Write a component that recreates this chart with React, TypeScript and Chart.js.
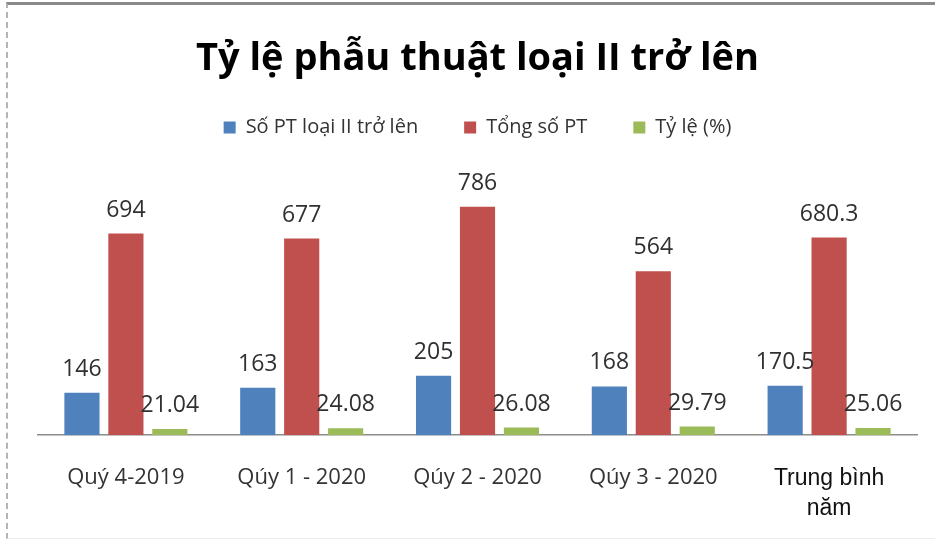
import React, { useEffect, useRef } from "react";
import { Chart, registerables } from "chart.js";

Chart.register(...registerables);

const TITLE = "Tỷ lệ phẫu thuật loại II trở lên";
const CATEGORIES: (string | string[])[] = [
  "Quý 4-2019",
  "Qúy 1 - 2020",
  "Qúy 2 - 2020",
  "Qúy 3 - 2020",
  ["Trung bình", "năm"],
];
const SERIES_NAMES = ["Số PT loại II trở lên", "Tổng số PT", "Tỷ lệ (%)"];
const SO_PT_LOAI_II = [146, 163, 205, 168, 170.5];
const TONG_SO_PT = [694, 677, 786, 564, 680.3];
const TY_LE = [21.04, 24.08, 26.08, 29.79, 25.06];
const COLORS = ["#4F81BD", "#C0504D", "#9BBB59"];
const Y_MAX = 990;

const dataLabelPlugin = {
  id: "dataLabels",
  afterDatasetsDraw(chart: any) {
    const { ctx } = chart;
    ctx.save();
    ctx.font = '23px "Open Sans"';
    ctx.fillStyle = "#303030";
    ctx.textAlign = "center";
    ctx.textBaseline = "alphabetic";
    chart.data.datasets.forEach((ds: any, i: number) => {
      const meta = chart.getDatasetMeta(i);
      meta.data.forEach((bar: any, j: number) => {
        ctx.fillText(String(ds.data[j]), bar.x, bar.y - 17);
      });
    });
    ctx.restore();
  },
};

export default function App() {
  const ref = useRef<HTMLCanvasElement | null>(null);

  useEffect(() => {
    document.body.style.margin = "0";
    if (!ref.current) return;
    const chart = new Chart(ref.current, {
      type: "bar",
      data: {
        labels: CATEGORIES,
        datasets: [
          { label: SERIES_NAMES[0], data: SO_PT_LOAI_II, backgroundColor: COLORS[0] },
          { label: SERIES_NAMES[1], data: TONG_SO_PT, backgroundColor: COLORS[1] },
          { label: SERIES_NAMES[2], data: TY_LE, backgroundColor: COLORS[2] },
        ],
      },
      options: {
        responsive: false,
        animation: false,
        layout: { padding: { left: 38, right: 18, top: 0, bottom: -10 } },
        datasets: {
          bar: { categoryPercentage: 0.75, barPercentage: 0.8 },
        },
        plugins: {
          title: {
            display: true,
            text: TITLE,
            color: "#000000",
            font: { family: "Open Sans", size: 38, weight: "bold", lineHeight: 1.2 },
            padding: { top: 36, bottom: -10 },
          },
          legend: {
            display: true,
            position: "top",
            labels: {
              color: "#333333",
              font: { family: "Open Sans", size: 20 },
              boxWidth: 12,
              boxHeight: 12,
              padding: 46,
            },
          },
          tooltip: { enabled: false },
        },
        scales: {
          x: {
            grid: { display: false, drawTicks: false },
            border: { display: true, color: "#8c8c8c", width: 1.5 },
            ticks: {
              padding: 29,
              color: (c: any) => (c.index === 4 ? "#111111" : "#333333"),
              font: (c: any) =>
                c.index === 4
                  ? { family: "Liberation Sans", size: 23, lineHeight: 1.3 }
                  : { family: "Open Sans", size: 22, lineHeight: 1.2 },
            },
          },
          y: {
            display: false,
            min: 0,
            max: Y_MAX,
          },
        },
      },
      plugins: [dataLabelPlugin],
    } as any);
    return () => chart.destroy();
  }, []);

  return (
    <div style={{ position: "relative", width: 935, height: 543, background: "#fff" }}>
      <div
        style={{
          position: "absolute",
          left: 6,
          top: 2,
          right: -4,
          bottom: 4,
          borderTop: "3px solid #8a8a8a",
          borderLeft: "2px dashed #b4b4b4",
          borderBottom: "1px solid #ececec",
          boxSizing: "border-box",
        }}
      />
      <canvas ref={ref} width={935} height={543} style={{ position: "absolute", left: 0, top: 0 }} />
    </div>
  );
}
